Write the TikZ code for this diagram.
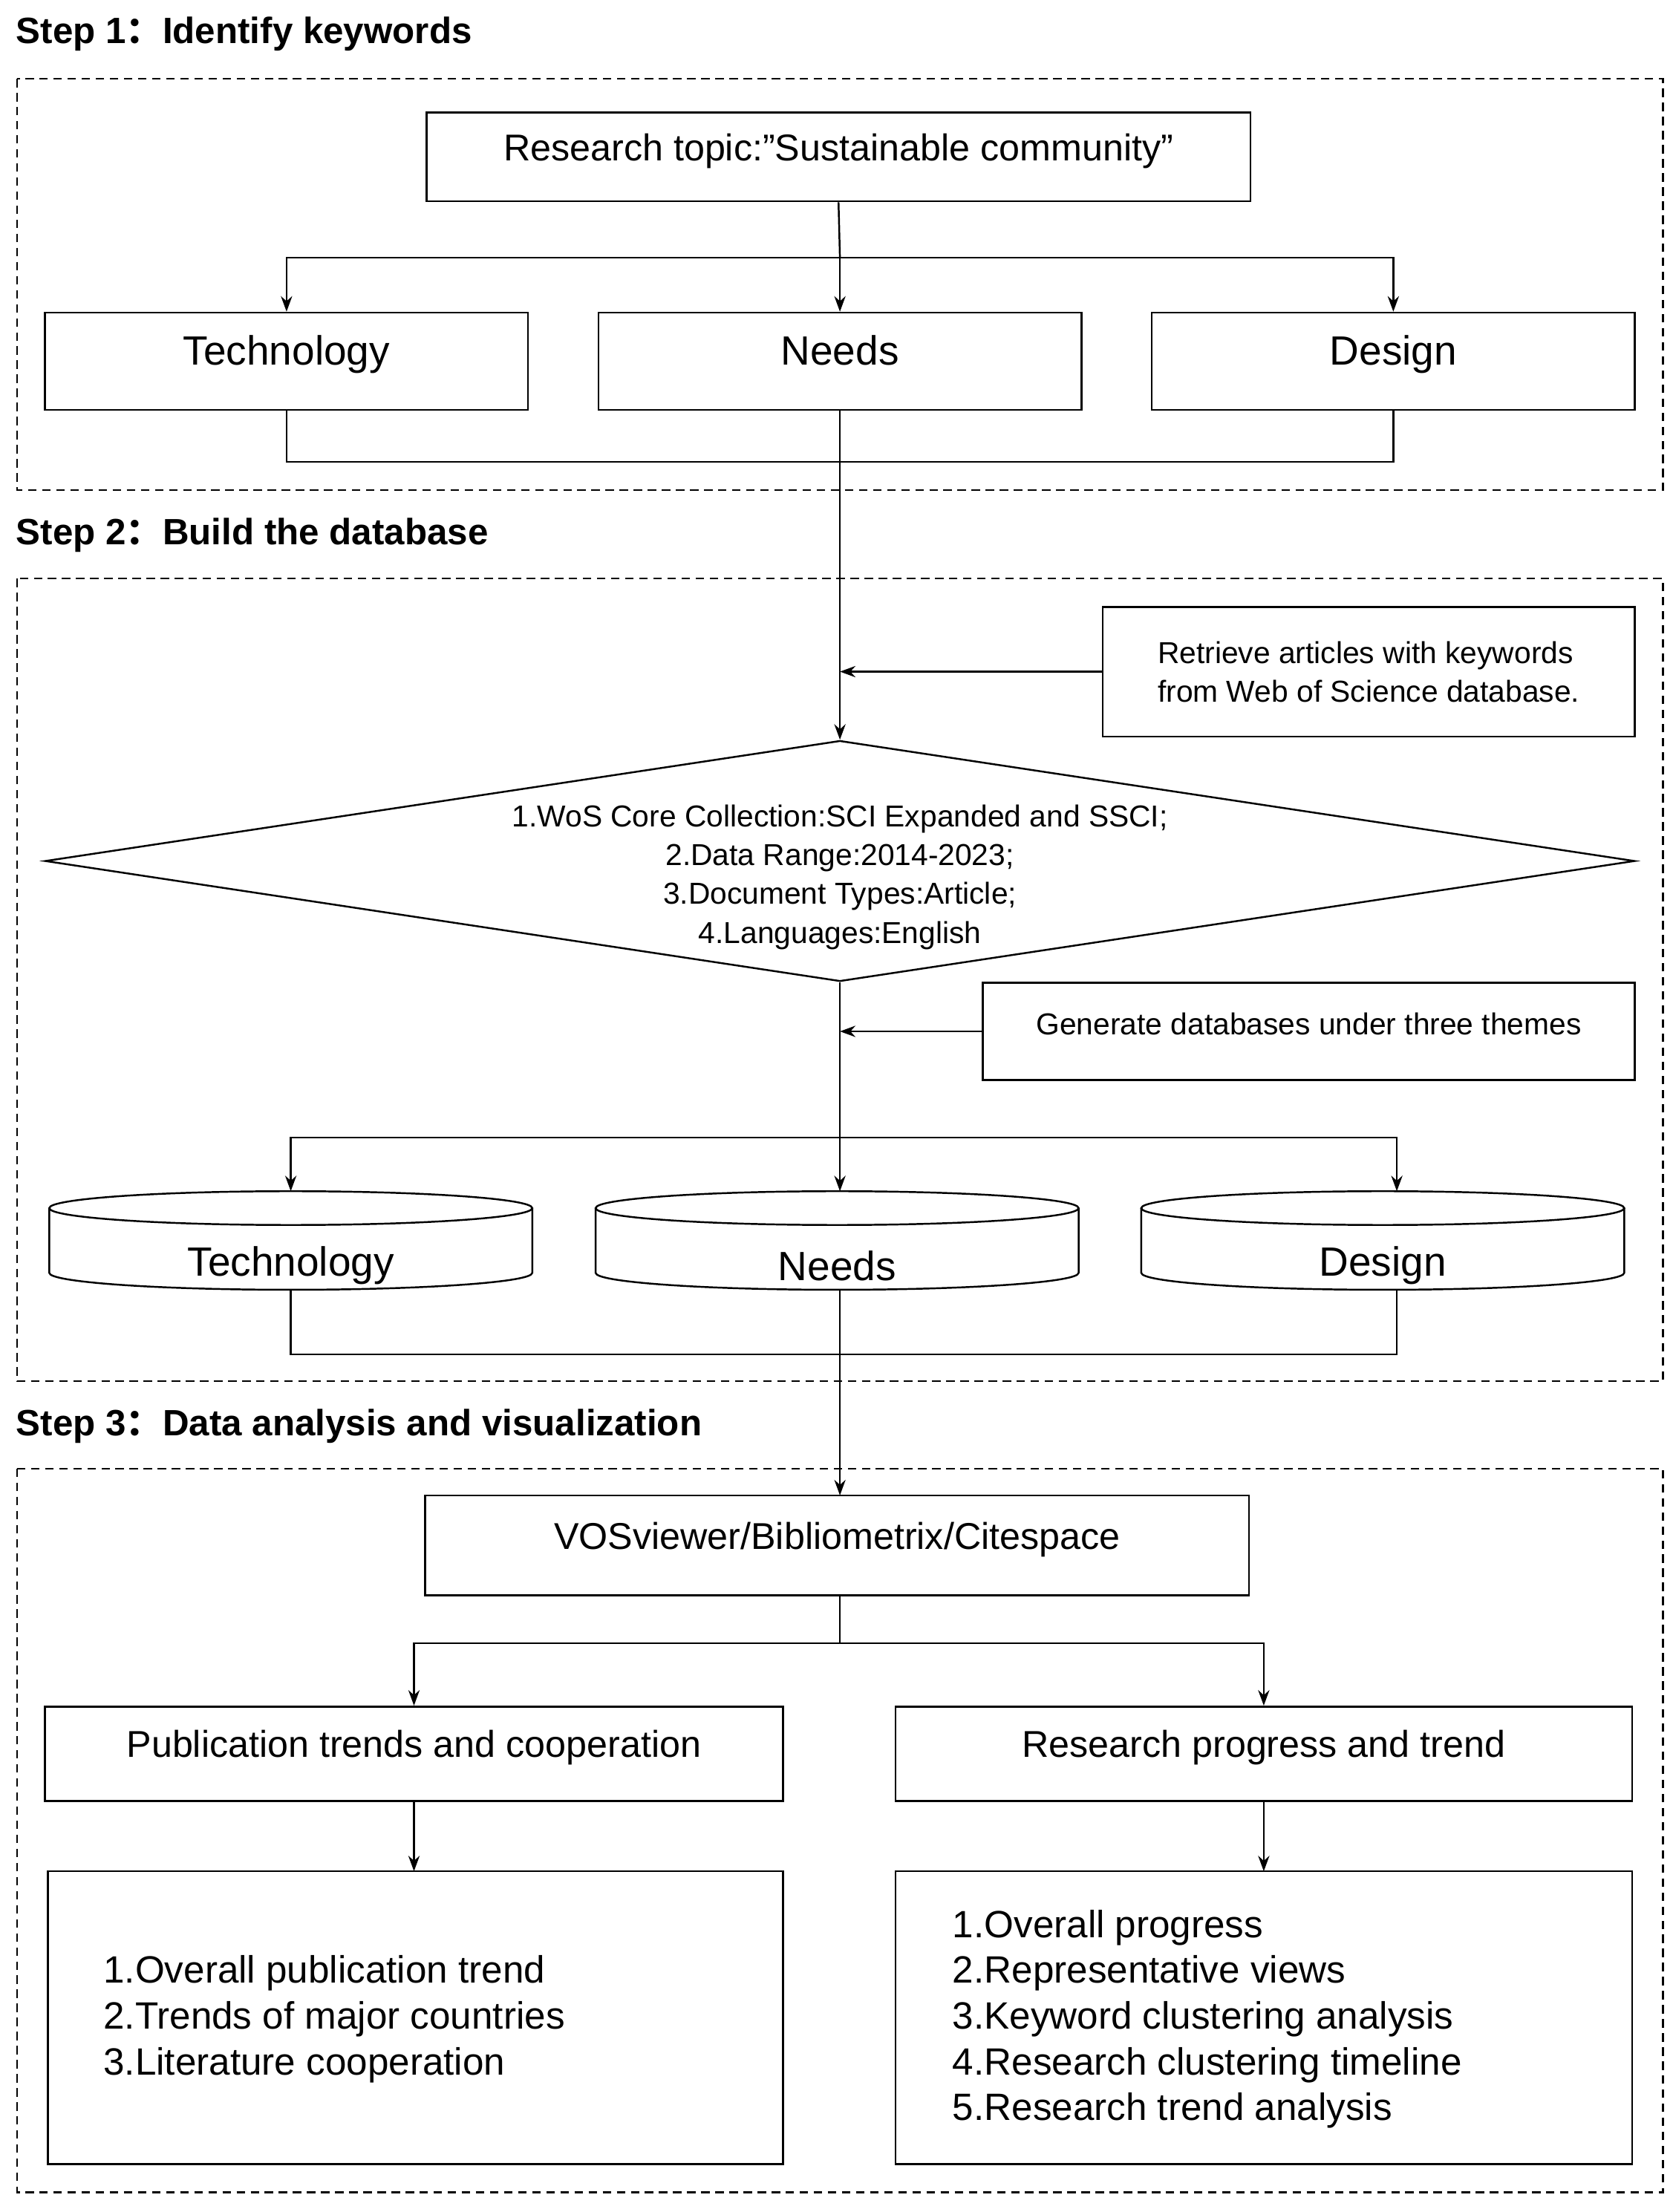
\documentclass[tikz,border=0pt]{standalone}
\usepackage{fontspec}
\setmainfont{Liberation Sans}
\newfontfamily\cjk{Noto Sans CJK SC}
\usetikzlibrary{arrows.meta,shapes.geometric}
\begin{document}
\begin{tikzpicture}[x=1pt,y=-1pt,
 box/.style={draw,line width=1.3pt,rectangle,inner sep=0pt,text height=0.72em,text depth=0.2em},
 frame/.style={draw,dashed,line width=1.1pt,dash pattern=on 6pt off 4pt},
 ln/.style={line width=1.3pt},
 ar/.style={line width=1.3pt,-{Stealth[length=11pt,width=8pt]}},
 big/.style={font=\fontsize{29}{33}\selectfont},
 mid/.style={font=\fontsize{26.5}{32}\selectfont},
 lst/.style={font=\fontsize{27}{32.5}\selectfont},
 small/.style={font=\fontsize{21.5}{27.5}\selectfont},
 ttl/.style={font=\bfseries\fontsize{26}{30}\selectfont,anchor=west}]
\useasboundingbox (0,0) rectangle (1188,1571);
% frames
\draw[frame] (12,56) rectangle (1181,348);
\draw[frame] (12,411) rectangle (1181,981);
\draw[frame] (12,1043) rectangle (1181,1557);
\node[ttl] (t1) at (8,24) {Step 1{\cjk\bfseries ：}Identify keywords};
\node[ttl] (t2) at (8,380) {Step 2{\cjk\bfseries ：}Build the database};
\node[ttl] (t3) at (8,1013) {Step 3{\cjk\bfseries ：}Data analysis and visualization};
% step 1
\node[box,mid,minimum width=585pt,minimum height=63pt] (rt) at (595.5,111.5) {Research topic:\symbol{34}Sustainable community\symbol{34}};
\node[box,big,minimum width=343pt,minimum height=69pt] (k1) at (203.5,256.5) {Technology};
\node[box,big,minimum width=343pt,minimum height=69pt] (k2) at (596.5,256.5) {Needs};
\node[box,big,minimum width=343pt,minimum height=69pt] (k3) at (989.5,256.5) {Design};
\coordinate (b1) at (596.5,183);
\draw[ln] (rt.south) -- (b1);
\draw[ar] (b1) -| (k1.north);
\draw[ar] (b1) -- (k2.north);
\draw[ar] (b1) -| (k3.north);
\coordinate (j1) at (596.5,328);
\draw[ln] (k1.south) |- (j1) -| (k3.south);
% step 2
\node[small,draw,line width=1.3pt,align=left,minimum width=378pt,minimum height=92pt] (re) at (972,477) {Retrieve articles with keywords\\from Web of Science database.};
\node[draw,line width=1.3pt,diamond,aspect=6.6,inner sep=0pt,minimum width=1129pt,minimum height=171pt] (dm) at (596.5,611.5) {};
\node[small,align=center] (dt) at (596.5,623) {1.WoS Core Collection:SCI Expanded and SSCI;\\2.Data Range:2014-2023;\\3.Document Types:Article;\\4.Languages:English};
\coordinate (m1) at (596.5,477);
\draw[ln] (k2.south) -- (j1);
\draw[ar] (j1) -- (dm.north);
\draw[ar] (re.west) -- (m1);
\node[box,small,minimum width=463pt,minimum height=69pt] (ge) at (929.5,732.5) {Generate databases under three themes};
\coordinate (m2) at (596.5,732.5);
\draw[ar] (ge.west) -- (m2);
\coordinate (b2) at (596.5,808);
\draw[ln] (dm.south) -- (b2);
% cylinders
\foreach \cx/\nm/\tx in {206.5/c1/Technology,594.5/c2/Needs,982/c3/Design}{
 \draw[line width=1.3pt,fill=white] (\cx-171.5,858) -- (\cx-171.5,904) arc[start angle=180,end angle=0,x radius=171.5,y radius=12] -- (\cx+171.5,858);
 \draw[line width=1.3pt] (\cx,858) ellipse[x radius=171.5,y radius=12];
 \node[big] (\nm) at (\cx,899) {\tx};
 \coordinate (\nm t) at (\cx,846);
 \coordinate (\nm b) at (\cx,916);
}
\draw[ar] (b2) -| (206.5,846);
\draw[ar] (b2) -- (596.5,846);
\draw[ar] (b2) -| (992,846);
\coordinate (j2) at (596.5,962);
\draw[ln] (c1b) |- (j2) -| (992,916);
\draw[ln] (596.5,916) -- (j2);
% step 3
\node[box,mid,minimum width=585pt,minimum height=71pt] (vo) at (594.5,1097.5) {VOSviewer/Bibliometrix/Citespace};
\draw[ar] (j2) -- (596.5,1062);
\coordinate (b3) at (596.5,1167);
\draw[ln] (596.5,1133) -- (b3);
\node[box,mid,minimum width=524pt,minimum height=67pt] (p1) at (294,1245.5) {Publication trends and cooperation};
\node[box,mid,minimum width=523pt,minimum height=67pt] (p2) at (897.5,1245.5) {Research progress and trend};
\draw[ar] (b3) -| (p1.north);
\draw[ar] (b3) -| (p2.north);
\draw[line width=1.3pt] (34,1329) rectangle (556,1537);
\draw[line width=1.3pt] (636,1329) rectangle (1159,1537);
\node[lst,align=left,anchor=west] (l1) at (70,1434) {1.Overall publication trend\\2.Trends of major countries\\3.Literature cooperation};
\node[lst,align=left,anchor=west] (l2) at (673,1434) {1.Overall progress\\2.Representative views\\3.Keyword clustering analysis\\4.Research clustering timeline\\5.Research trend analysis};
\draw[ar] (p1.south) -- (294,1329);
\draw[ar] (p2.south) -- (897.5,1329);
\end{tikzpicture}
\end{document}
